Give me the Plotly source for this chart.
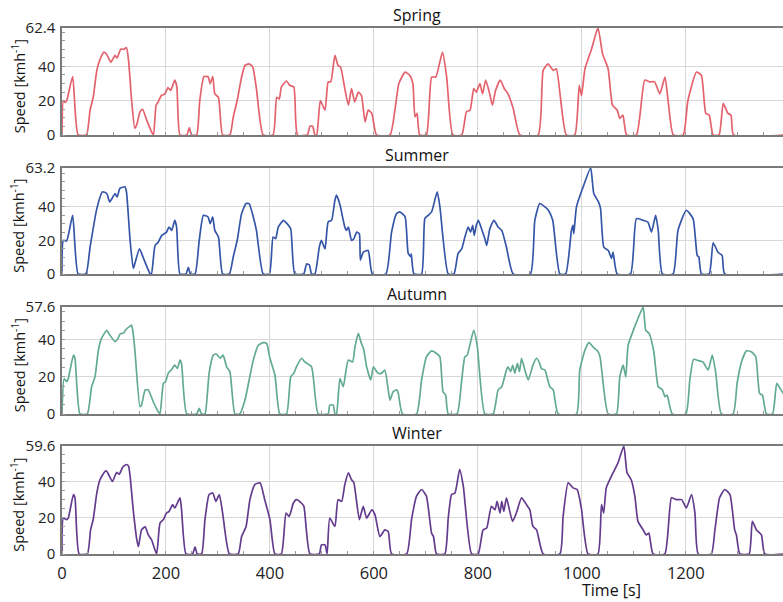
import plotly.graph_objects as go

# ---------------- data (time [s], speed [km/h]) ----------------
seasons = ["Spring", "Summer", "Autumn", "Winter"]
y_max = [62.4, 63.2, 57.6, 59.6]
x_tick_vals = [0, 200, 400, 600, 800, 1000, 1200]
y_tick_vals = [0, 20, 40]

spring_t = [0, 2.5, 6, 9, 20.5, 31, 47, 54, 60, 67, 73, 81, 86, 94, 102, 106, 113, 119, 124, 128, 134, 140,
            143.6, 150, 155, 163, 172, 176, 181, 185, 191, 198, 204, 209, 217, 221, 227, 240, 245, 249, 259,
            265, 273, 281, 285, 290, 294, 301, 309, 323, 329.5, 337, 345.5, 352, 360, 367, 374, 387, 406, 413,
            418, 422, 432, 438, 446, 453, 472, 477, 482, 486.5, 490, 497, 506, 512, 517, 525, 531, 536, 544,
            551, 557, 563, 570, 576, 583, 589, 596, 605, 631, 640, 648, 660, 669, 675, 679, 683, 688, 701,
            711, 719, 732, 740, 752, 769, 778, 785, 792, 797, 804, 809, 815, 822, 828, 834, 843, 851, 858,
            868, 881, 916, 925.6, 935, 945, 951, 970, 986.5, 995, 999.4, 1006, 1018.6, 1031, 1040, 1050.6,
            1059, 1068, 1073, 1079, 1086, 1105, 1121, 1131, 1140, 1150, 1160, 1166, 1176, 1195, 1204,
            1220.5, 1230, 1238.5, 1245, 1252.6, 1264, 1272, 1281, 1287, 1292, 1390]
spring_v = [0, 20, 19, 20, 34, 0, 0, 14.5, 22, 37.7, 44, 48.3, 47, 42.5, 46.4, 45, 50, 50, 51, 43.5, 20, 3.9,
            5.8, 13.5, 15, 8.7, 2, 0, 17.4, 19.3, 23, 24, 27.6, 26, 32, 28, 0, 0, 4.3, 0, 0,
            20, 34, 34, 30, 34, 24, 22, 0, 0, 10.6, 20, 33.8, 40.6, 41.5, 39.6, 27, 0, 0, 22,
            21, 28, 31.5, 29, 28, 0, 0, 5.2, 5.2, 0, 0, 20, 14.5, 31, 31, 46.4, 40.6, 39.6, 27,
            17.4, 27, 19.3, 25, 23, 7.7, 14.5, 12.6, 0, 0, 13.5, 30, 36.7, 34.8, 30, 10.6, 12.6, 0, 0,
            33.8, 33.8, 48.3, 33.8, 0, 0, 13.5, 14.5, 27, 25, 30, 24, 32, 25, 17.4, 26, 32, 27, 24,
            15.5, 0, 0, 37.7, 41.5, 37.7, 38.6, 0, 0, 29, 23, 38.6, 50, 62.4, 47.3, 38.6,
            17.4, 14.5, 9.7, 11.6, 0, 0, 32, 31, 31, 24, 33.8, 20, 0, 0, 20,
            36.7, 34.8, 12.6, 11.6, 0, 0, 18.4, 12.6, 11.6, 0, 0]

summer_t = [0, 2.5, 9, 20.5, 31, 46, 54, 67, 78, 86, 92, 102, 106, 111.5, 121, 124, 131, 137, 138.5, 149, 156,
            169, 172, 179, 185, 192, 201, 206, 211, 217, 220.5, 227, 238.5, 243, 247, 256, 264, 272, 281, 285,
            290, 294, 301, 309, 322, 329.5, 337, 345.5, 354, 360, 368, 374, 387, 399, 406, 411, 416, 426, 433,
            440, 448, 465, 470.5, 476, 480, 486.5, 495, 499, 506, 512, 518.6, 525, 528, 535, 541, 544, 547,
            551, 557, 561.5, 567, 572, 574, 579.5, 589, 597, 623, 634, 643.6, 650, 660, 666, 671, 672, 677,
            691.7, 698, 704.5, 711, 721.8, 727, 743, 754, 762, 769, 775, 781.4, 786, 790, 793, 797, 801, 807,
            813.5, 817, 823, 831, 839, 846, 855, 868, 901, 909.6, 919, 929, 935.7, 944, 957.7, 969, 980, 983,
            984.6, 989.7, 1002.6, 1017, 1023, 1032, 1036, 1042.3, 1051, 1057, 1060, 1068, 1093.6, 1105, 1118,
            1127, 1134, 1142, 1147, 1155, 1175.6, 1185, 1201, 1214, 1222, 1225, 1230, 1245, 1252.6, 1262,
            1270, 1275, 1390]
summer_v = [0, 20, 19.8, 35, 0, 0, 16, 39, 49, 48, 43, 48, 46, 51, 52, 49, 20, 3.4, 4.4, 15, 10,
            0.4, 0, 17, 19, 23, 25, 28, 26, 32, 28, 0, 0, 4, 0, 0, 20, 35, 34, 30,
            34, 26, 22, 0, 0, 10.3, 20, 36, 42, 42, 34, 26, 0, 0, 22, 21, 28, 32, 30,
            27, 0, 0, 6, 5.3, 0, 0, 16, 20, 15, 31, 32, 44, 47, 41, 32, 28, 26,
            28, 20, 21, 25, 24, 8.3, 13, 14, 0, 0, 25, 36, 37, 34, 12.3, 10.3, 12, 0,
            0, 33, 35, 37, 49, 40, 0, 0, 12.3, 15, 22, 28, 25, 29, 23, 29, 32, 27,
            21, 17, 27, 32, 28, 26, 16, 0, 0, 32, 42, 40, 38, 32, 0, 0, 26, 29,
            24, 40, 52, 63.2, 48, 43, 39, 16, 14, 9.3, 13, 0, 0, 33, 32,
            31, 25, 35, 26, 0, 0, 26, 38, 33, 11, 10.3, 0, 0, 18.6, 13,
            11, 0, 0]

autumn_t = [0, 4, 9, 12, 22, 25, 34.6, 48.7, 57, 63.5, 70, 76, 86, 92, 102, 108, 111.5, 119, 123, 131, 134, 137,
            140, 150, 153, 160, 166, 175.6, 185, 188.5, 195, 199, 204.5, 211, 217, 222, 227, 230, 240, 259,
            264, 268.6, 275, 283, 291, 297, 304, 310, 316.7, 323, 332.7, 342, 352, 360, 368, 377.6, 387,
            393.6, 400, 409.6, 419, 432, 440, 446, 451, 461, 467, 480, 493, 512, 515, 522, 525, 528, 534.6,
            541, 550.6, 559, 563.5, 570, 576, 580, 586, 594, 599, 608, 615, 621, 627.6, 631, 637, 644, 647,
            655, 682, 691.7, 701, 711, 720.5, 727, 733, 738, 743, 760, 768.6, 775, 779.5, 792, 798.7, 813.5,
            829.5, 839, 846, 855, 858, 863, 867, 871, 876, 880, 884, 890.4, 897, 906, 913, 919, 922, 929,
            932, 938.5, 945, 954.5, 989.7, 996, 1006, 1014, 1022, 1030, 1035, 1050.6, 1066.7, 1073, 1079.5,
            1084.6, 1089, 1099, 1108, 1118, 1123, 1129.5, 1138.5, 1147, 1155, 1160, 1164, 1174, 1200,
            1207.7, 1215, 1224, 1233, 1243, 1251, 1257.7, 1268.6, 1291, 1298.7, 1307, 1316.7, 1326, 1334.6,
            1342, 1347.4, 1355, 1367, 1375, 1383, 1390]
autumn_v = [0, 19, 17.4, 19, 31.7, 30, 0, 0, 14.7, 20, 34.4, 40.7, 45, 42.5, 39, 40.7, 43, 43.7, 45.5, 47.3, 47.8, 43,
            35, 4, 4.8, 13, 13, 6.6, 1.3, 0, 16.5, 17.4, 22, 24, 26.3, 24.5, 29, 27, 0, 0,
            3, 0, 0, 22, 31.7, 32.3, 30, 31.7, 25.4, 22.8, 0, 0, 7.5, 18.3, 29, 37, 38.4,
            38, 30, 21, 0, 0, 20, 22, 25.4, 30, 28, 25.4, 0, 0, 4.8, 4.8, 0, 0, 19,
            14.7, 29, 28, 36, 43.4, 38, 35.3, 25.4, 18.3, 25.4, 21.9, 22, 23.7, 13, 7.5, 12, 13, 11,
            0, 0, 18.3, 30.8, 34, 32.6, 30.8, 12, 10.2, 0, 0, 17.4, 30.8, 31.7, 45, 37, 0,
            0, 13, 14.7, 23.7, 25.4, 22.8, 26.3, 22, 27.2, 22.8, 30, 23.7, 18.3, 26.3, 30, 27.2, 24.5, 23.7,
            21, 14.7, 13, 0, 0, 23.7, 34.4, 38.4, 36, 34, 30.8, 0, 0, 20, 26.3,
            20, 37, 45, 51.4, 57.6, 45, 43.4, 33.5, 14.7, 13, 9.3, 10.2, 0, 0,
            18.3, 29.4, 28.7, 28, 23.7, 31.7, 22, 0, 0, 16.5, 28, 34, 33.5, 30.8,
            11, 10.2, 0, 0, 16.5, 13, 10]

winter_t = [0, 2.5, 9, 12, 22, 25, 33, 48.7, 55, 60, 67, 73, 83, 86, 97, 105, 110, 117, 124, 128, 131, 137, 144,
            147, 153, 160, 166, 172.4, 182, 188.5, 195, 201, 206, 213, 217, 227, 230, 238.5, 251, 256, 260,
            268.6, 275, 283, 290, 296, 302.6, 309, 322, 339, 345.5, 354, 361.5, 371, 381, 390, 400, 409.6,
            422, 431, 437, 445, 451, 461, 465.4, 477, 495, 499, 506, 510, 515, 525, 531, 538, 544, 551, 557,
            561.5, 572, 579.5, 586, 596, 602, 611.5, 621, 627.6, 634, 663, 672.4, 682, 691.7, 701, 711,
            714.7, 720.5, 736.5, 743, 749.4, 756, 765, 772, 788, 800.6, 810, 817, 826, 833, 837, 842.6, 846,
            850, 855, 866.7, 874, 884, 893.6, 900, 906, 913, 925.6, 957.7, 964, 973.7, 983, 991, 999, 1012,
            1031, 1037.8, 1042, 1047, 1057, 1069.8, 1080.8, 1087, 1095, 1102, 1108, 1118, 1124, 1129, 1137,
            1159.6, 1172.4, 1182, 1192, 1201, 1211, 1217.6, 1224, 1249, 1256, 1265, 1275, 1285, 1294,
            1297.4, 1304, 1321.8, 1328, 1336, 1345.5, 1352, 1390]
winter_v = [0, 19.8, 19, 19.8, 32.8, 31, 0, 0, 13.3, 19, 33.7, 41, 45.7, 45.7, 40, 45, 44, 48, 49.4, 48.5, 43, 24.4, 7.8,
            4, 13.3, 15, 10.5, 7.8, 0, 17, 19, 22.6, 23.5, 27.2, 25.4, 31, 24.4, 0, 0, 4, 0,
            0, 19, 32.8, 33.7, 29, 32.8, 22.6, 0, 0, 9.6, 15, 30, 38.3, 39.3, 30, 19, 0,
            0, 22.6, 20.7, 28, 30, 28, 26.3, 0, 0, 5, 5, 0, 19.8, 15.2, 30, 29, 38.3, 44.8, 41,
            39.3, 19, 26.3, 19.8, 24.4, 21.7, 9.6, 13.3, 12.4, 0, 0, 19, 31.9, 35.6, 31.9, 11.5,
            9.6, 0, 0, 19.8, 32.8, 33.7, 46.7, 37.4, 0, 0, 13.3, 14.3, 26.3, 24.4, 29, 22.6, 29,
            23.5, 31, 18, 22.6, 31, 27.2, 24.4, 15.2, 13.3, 0, 0, 20.7, 39.3, 36.5, 35.6, 25.4, 0,
            0, 27.2, 22.6, 36.5, 43, 50.4, 59.6, 44.8, 41, 31.9, 18, 13.3, 10.5, 11.5, 0,
            0, 31, 30, 30, 25.4, 32.8, 22.6, 0, 0, 13.3, 31, 35.6, 32.8, 13.3,
            10.5, 0, 0, 18, 13.3, 10.5, 0, 0]

series_t = [spring_t, summer_t, autumn_t, winter_t]
series_v = [spring_v, summer_v, autumn_v, winter_v]

# ---------------- styling ----------------
W, H = 783, 602
colors = ["#e4626c", "#3556a8", "#62aa94", "#643c8e"]
panels_px = [(28, 135), (168, 274), (307, 414), (446, 554)]
LEFT_PX = 62
FONT = "Open Sans, Noto Sans, sans-serif"
GRID = "#d8d8d8"
AXLINE = "#7a7a7a"

fig = go.Figure()
layout = dict(
    width=W, height=H,
    margin=dict(l=LEFT_PX, r=0, t=0, b=0, autoexpand=False),
    paper_bgcolor="white", plot_bgcolor="white",
    font=dict(family=FONT, color="#222", size=14),
    showlegend=False,
)
annotations = []

for i, name in enumerate(seasons):
    suf = "" if i == 0 else str(i + 1)
    fig.add_trace(go.Scatter(
        x=series_t[i], y=series_v[i], mode="lines",
        line=dict(color=colors[i], width=1.7, shape="spline", smoothing=0.5),
        xaxis="x" + suf, yaxis="y" + suf, name=name,
        hoverinfo="x+y",
    ))
    top, bot = panels_px[i]
    dom = [1 - bot / H, 1 - top / H]
    last = i == 3
    layout["xaxis" + suf] = dict(
        domain=[0, 1], range=[0, 1387], anchor="y" + suf, automargin=False,
        tickmode="array", tickvals=x_tick_vals,
        showticklabels=last, ticks="outside" if last else "",
        ticklen=3, tickcolor="rgba(0,0,0,0)",
        tickfont=dict(size=16.5),
        showgrid=True, gridcolor=GRID, gridwidth=1,
        showline=True, mirror=True, linecolor=AXLINE, linewidth=1.5,
        zeroline=False,
        minor=dict(tickmode="linear", tick0=0, dtick=50, ticks="inside",
                   ticklen=3, tickcolor="#999", showgrid=False),
    )
    ym = y_max[i]
    layout["yaxis" + suf] = dict(
        domain=dom, range=[0, ym], anchor="x" + suf, automargin=False,
        tickmode="array", tickvals=y_tick_vals + [ym],
        ticktext=[str(v) for v in y_tick_vals] + [f"{ym:.1f}"],
        tickfont=dict(size=15),
        ticks="outside", ticklen=2, tickcolor="rgba(0,0,0,0)",
        showgrid=True, gridcolor=GRID, gridwidth=1,
        showline=True, mirror=True, linecolor=AXLINE, linewidth=1.5,
        zeroline=False,
        minor=dict(tickmode="linear", tick0=0, dtick=5, ticks="inside",
                   ticklen=3, tickcolor="#999", showgrid=False),
    )
    annotations.append(dict(
        text=name, xref="paper", yref="paper", x=0.493, y=dom[1],
        xanchor="center", yanchor="bottom", yshift=0, showarrow=False,
        font=dict(size=16, color="#111"),
    ))
    annotations.append(dict(
        text="Speed [kmh<sup>-1</sup>]", xref="paper", yref="paper",
        x=(18 - LEFT_PX) / (W - LEFT_PX), y=(dom[0] + dom[1]) / 2 - 0.008,
        xanchor="center", yanchor="middle", textangle=-90, showarrow=False,
        font=dict(size=14.5, color="#111"),
    ))

annotations.append(dict(
    text="Time [s]", xref="paper", yref="paper",
    x=(611 - LEFT_PX) / (W - LEFT_PX), y=1 - 590 / H,
    xanchor="center", yanchor="middle", showarrow=False,
    font=dict(size=16, color="#111"),
))
layout["annotations"] = annotations
fig.update_layout(**layout)

fig.write_html("out.html", config={"displayModeBar": False},
               post_script="document.body.style.margin='0px';")
